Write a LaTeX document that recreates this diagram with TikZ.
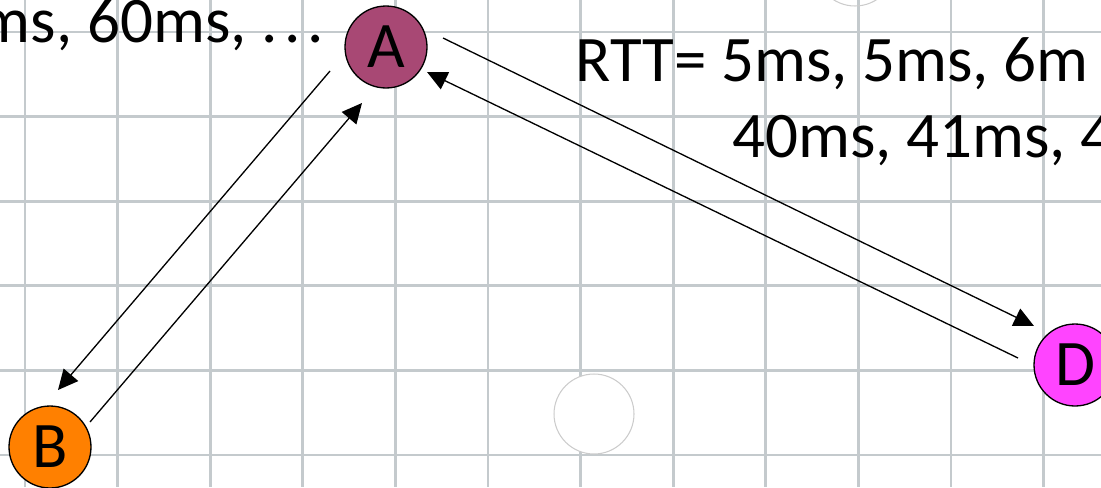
\documentclass[tikz,border=0pt]{standalone}
\usepackage{fontspec}
\setmainfont{Carlito}
\usetikzlibrary{calc,arrows.meta}

\definecolor{nodeA}{HTML}{A84874}
\definecolor{nodeB}{HTML}{FF8000}
\definecolor{nodeD}{HTML}{FF44FF}
\definecolor{gridgray}{HTML}{C4CACD}

\begin{document}
\begin{tikzpicture}[x=0.02cm, y=-0.02cm,
  gridline/.style={gridgray, line width=1.6pt},
  station/.style={circle, draw=black, line width=0.75pt, minimum size=1.64cm, inner sep=0pt},
  ghost/.style={circle, draw=black!20, line width=0.6pt, minimum size=1.6cm, inner sep=0pt},
  msg/.style={line width=0.75pt, -{Triangle[length=0.4cm, width=0.38cm]}},
  every node/.append style={font=\fontsize{37}{44}\selectfont}]
\useasboundingbox (0,0) rectangle (1101,487);

% squared paper
\foreach \i in {0,...,11}
  \draw[gridline] ({25+92.6*\i},0) -- ({25+92.6*\i},487);
\foreach \j in {0,...,5}
  \draw[gridline] (0,{32+84.6*\j}) -- (1101,{32+84.6*\j});

% hosts
\node[ghost] (C) at (855,-34) {};
\node[ghost, fill=white] (E) at (594,414) {};
\node[station, fill=nodeA] (A) at (386,47) {A};
\node[station, fill=nodeB] (B) at (50,447) {B};
\node[station, fill=nodeD] (D) at (1075,365) {D};

% probes and replies
\draw[msg] ($(A)+(-56,24)$) -- ($(B)+(8,-57)$);
\draw[msg] ($(B)+(40,-25)$) -- ($(A)+(-24,56)$);
\draw[msg] ($(A)+(57,-9)$) -- ($(D)+(-41,-39)$);
\draw[msg] ($(D)+(-57,-7)$) -- ($(A)+(41,25)$);

% measured round trips
\node[inner sep=0pt, anchor=base east] (rttB) at (324,42) {ms, 60ms, .\kern0.1em.\kern0.1em.};
\node[inner sep=0pt, anchor=base west] (rttD) at (575,81) {RTT= 5ms, 5ms, 6m};
\node[inner sep=0pt, anchor=base west] (rttD2) at (732,157) {40ms, 41ms, 4};
\end{tikzpicture}
\end{document}
